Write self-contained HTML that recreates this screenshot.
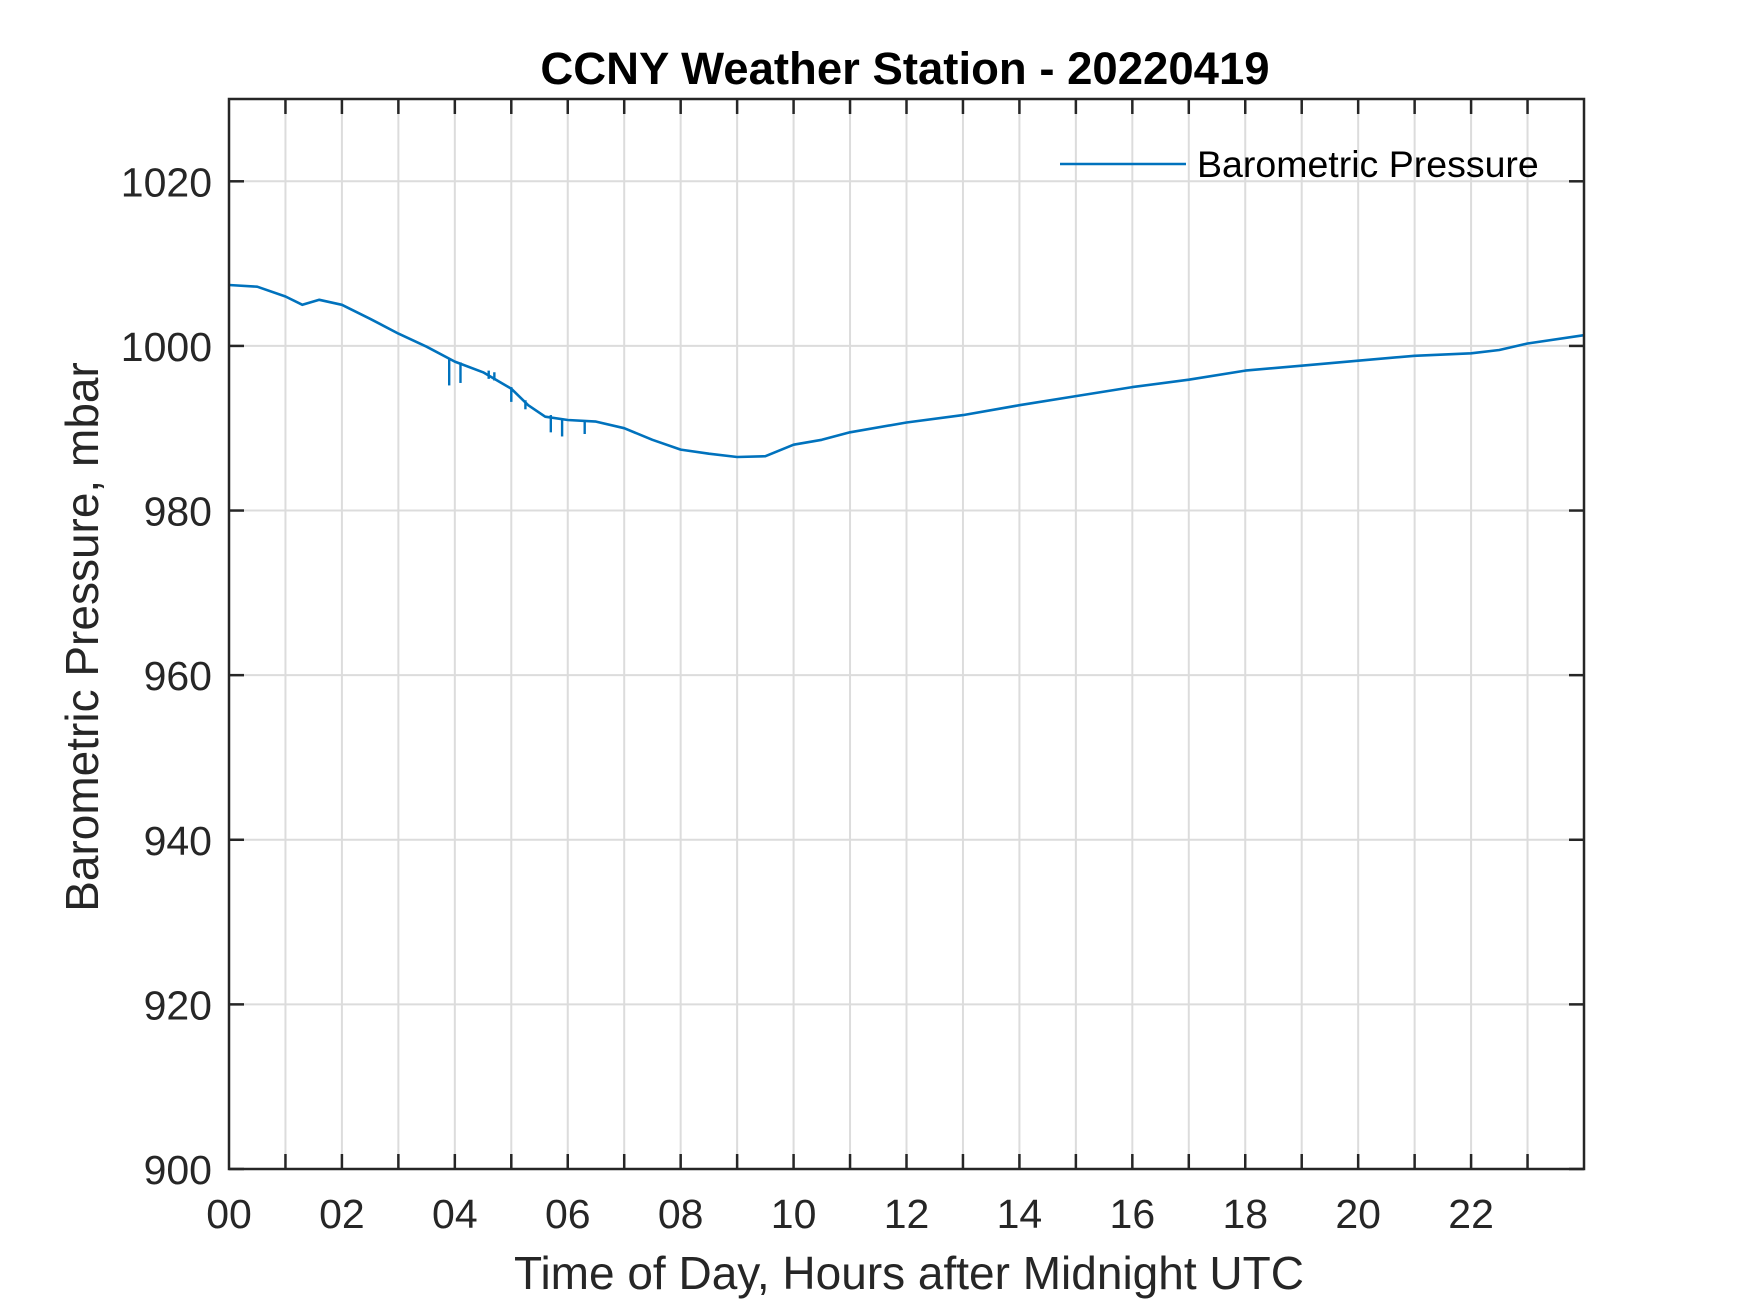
<!DOCTYPE html>
<html><head><meta charset="utf-8"><style>
html,body{margin:0;padding:0;background:#fff}
svg{display:block;font-family:"Liberation Sans",Arial,sans-serif}
</style></head><body>
<svg id="chart" width="1750" height="1313" viewBox="0 0 1750 1313" xmlns="http://www.w3.org/2000/svg">
<rect width="1750" height="1313" fill="#fff"/>
<g id="grid"></g>
<g id="ticks"></g>
<g id="series"></g>
<rect x="229" y="99" width="1355" height="1070" fill="none" stroke="#262626" stroke-width="2.5"/>
<text x="905" y="84" text-anchor="middle" font-size="45.5" font-weight="bold" fill="#000">CCNY Weather Station - 20220419</text>
<text x="909" y="1289" text-anchor="middle" font-size="46" fill="#262626">Time of Day, Hours after Midnight UTC</text>
<text transform="translate(98,637) rotate(-90)" text-anchor="middle" font-size="46" fill="#262626">Barometric Pressure, mbar</text>
<g>
<line x1="1060" y1="164" x2="1186" y2="164" stroke="#0072BD" stroke-width="2.5"/>
<text x="1197" y="177" font-size="37.5" fill="#000">Barometric Pressure</text>
</g>
</svg>
<script>
const hours = [0,0.5,1.0,1.3,1.6,2.0,2.5,3.0,3.5,4.0,4.5,5.0,5.3,5.6,6.0,6.5,7.0,7.5,8.0,8.5,9.0,9.5,10.0,10.5,11,12,13,14,15,16,17,18,19,20,21,22,22.5,23,24];
const pressure = [1007.4,1007.2,1006,1005,1005.6,1005,1003.3,1001.5,999.9,998.1,996.8,994.8,992.8,991.4,991,990.8,990,988.6,987.4,986.9,986.5,986.6,988,988.6,989.5,990.7,991.6,992.8,993.9,995,995.9,997,997.6,998.2,998.8,999.1,999.5,1000.3,1001.3];
const spikeHours = [3.9,4.1,4.6,4.7,5.0,5.25,5.7,5.9,6.3];
const spikeBase = [998.4,998.0,997.0,996.8,995.0,993.4,991.6,991.2,991.0];
const spikeLow = [995.2,995.5,996.0,995.8,993.2,992.3,989.5,989.0,989.3];
const xTicks = [0,2,4,6,8,10,12,14,16,18,20,22];
const xTickLabels = ["00","02","04","06","08","10","12","14","16","18","20","22"];
const yTicks = [900,920,940,960,980,1000,1020];
const yTickLabels = ["900","920","940","960","980","1000","1020"];

const L=229,R=1584,T=99,B=1169,xmin=0,xmax=24,ymin=900,ymax=1030;
const sx=h=>L+(h-xmin)/(xmax-xmin)*(R-L);
const sy=v=>B-(v-ymin)/(ymax-ymin)*(B-T);
const NS="http://www.w3.org/2000/svg";
const grid=document.getElementById('grid'),ticks=document.getElementById('ticks'),series=document.getElementById('series');
function mk(tag,attrs,parent){const e=document.createElementNS(NS,tag);for(const k in attrs)e.setAttribute(k,attrs[k]);parent.appendChild(e);return e;}
for(let h=1;h<24;h++){
  const x=sx(h);
  const g=mk('line',{x1:x,y1:T,x2:x,y2:B,stroke:'#dcdcdc','stroke-width':2},grid);
  
  
  const t1=mk('line',{x1:x,y1:B,x2:x,y2:B-15,stroke:'#262626','stroke-width':2.5},ticks);
  
  
  const t2=mk('line',{x1:x,y1:T,x2:x,y2:T+15,stroke:'#262626','stroke-width':2.5},ticks);
  
  
}
xTicks.forEach((h,i)=>{
  const t=mk('text',{x:sx(h),y:1228,'text-anchor':'middle','font-size':41,fill:'#262626'},ticks);
  t.textContent=xTickLabels[i];
  
  
});
yTicks.forEach((v,i)=>{
  const y=sy(v);
  if(v>ymin){
    const g=mk('line',{x1:L,y1:y,x2:R,y2:y,stroke:'#dcdcdc','stroke-width':2},grid);
    
    
  }
  const t1=mk('line',{x1:L,y1:y,x2:L+15,y2:y,stroke:'#262626','stroke-width':2.5},ticks);
  
  
  const t2=mk('line',{x1:R,y1:y,x2:R-15,y2:y,stroke:'#262626','stroke-width':2.5},ticks);
  
  
  const t=mk('text',{x:212,y:y+15,'text-anchor':'end','font-size':41,fill:'#262626'},ticks);
  t.textContent=yTickLabels[i];
  
  
});
const pts=hours.map((h,i)=>sx(h).toFixed(1)+','+sy(pressure[i]).toFixed(1)).join(' ');
const line=mk('polyline',{points:pts,fill:'none',stroke:'#0072BD','stroke-width':2.6,'stroke-linejoin':'round'},series);


spikeHours.forEach((h,i)=>{
  const s=mk('line',{x1:sx(h),y1:sy(spikeBase[i]),x2:sx(h),y2:sy(spikeLow[i]),stroke:'#0072BD','stroke-width':2.4},series);
  
  
});
</script>
</body></html>
